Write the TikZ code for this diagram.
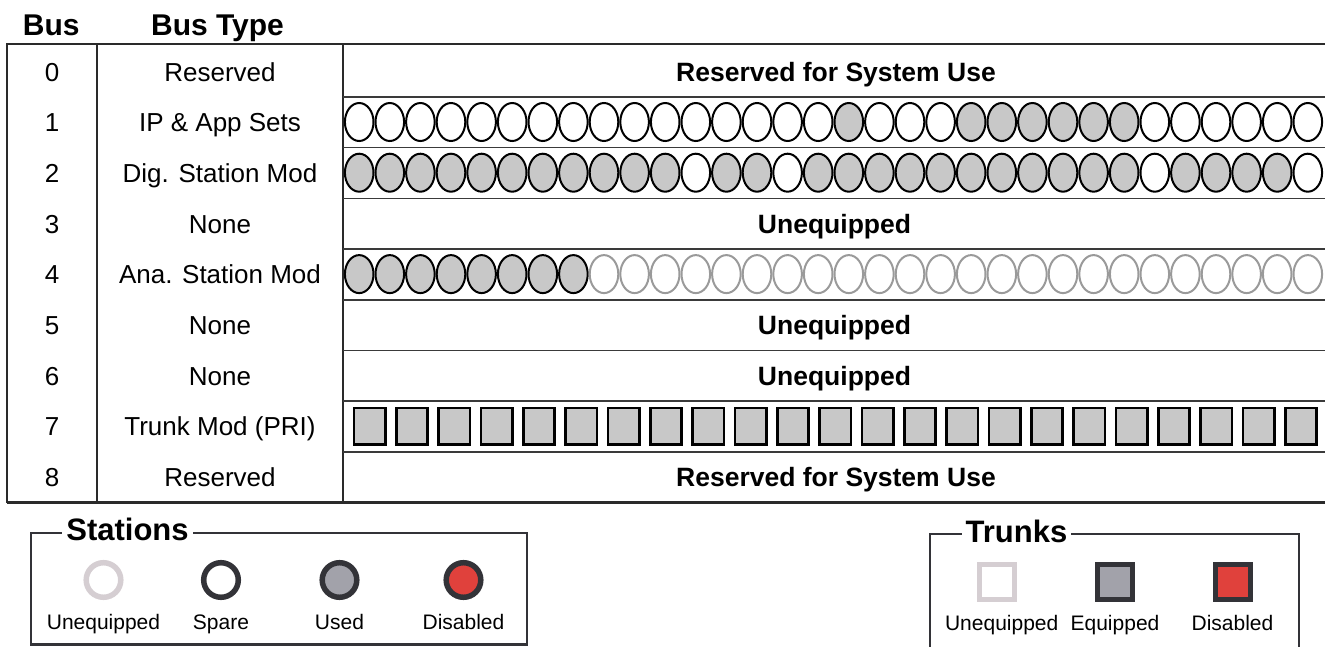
\documentclass[tikz,border=0pt]{standalone}
\usepackage{fontspec}
\setmainfont{Liberation Sans}
\definecolor{cellgrey}{HTML}{C8C8C8}
\definecolor{unegrey}{HTML}{9A9A9A}
\definecolor{legdark}{HTML}{333338}
\definecolor{leglight}{HTML}{D5CED2}
\definecolor{usedgrey}{HTML}{A2A2AA}
\definecolor{disred}{HTML}{E0413C}
\definecolor{rowline}{HTML}{3A3A3A}
\definecolor{frame}{HTML}{2A2A2A}
\begin{document}
\begin{tikzpicture}[x=1pt,y=-1pt,
  hdr/.style={font=\fontsize{30}{34}\selectfont\bfseries, text height=21.5pt, text depth=0pt, inner sep=0pt},
  lbl/.style={font=\fontsize{26}{30}\selectfont, text height=18.6pt, text depth=0pt, inner sep=0pt},
  blbl/.style={font=\fontsize{26.5}{30}\selectfont\bfseries, text height=19pt, text depth=0pt, inner sep=0pt},
  legtitle/.style={font=\fontsize{31}{34}\selectfont\bfseries, text height=22.2pt, text depth=0pt, inner ysep=2pt, inner xsep=4pt, fill=white},
  leglbl/.style={font=\fontsize{21}{24}\selectfont, text height=15pt, text depth=0pt, inner sep=0pt},
  thickline/.style={draw=frame, line width=2.5pt},
  thinline/.style={draw=rowline, line width=1.5pt},
  ovalW/.style={draw=black, line width=2pt, fill=white},
  ovalG/.style={draw=black, line width=2pt, fill=cellgrey},
  ovalU/.style={draw=unegrey, line width=2pt, fill=white},
  trunksq/.style={draw=black, line width=2.7pt, fill=cellgrey},
  legline/.style={draw=legdark, line width=2.6pt},
  legring/.style={line width=5.5pt},
]
\useasboundingbox (0,0) rectangle (1325,646);

% headers
\node[hdr] (hbus) at (51.3,25) {Bus};
\node[hdr] (htype) at (217.5,25) {Bus Type};

% table frame
\draw[thickline] (7,502.6) -- (7,44) -- (1330,44);
\draw[thickline] (7,502.6) -- (1330,502.6);
\draw[thickline] (97,44) -- (97,502.6);
\draw[thickline] (343,44) -- (343,502.6);
\foreach \i in {0,...,7}
  \draw[thinline] (343,{97+50.7*\i}) -- (1330,{97+50.7*\i});

% row labels
\foreach \n/\t/\y in {0/Reserved/72, 1/IP \& App Sets/122.35, 2/Dig. Station Mod/173.05,
    3/None/223.75, 4/Ana. Station Mod/274.45, 5/None/325.15, 6/None/375.85,
    7/Trunk Mod (PRI)/426.55, 8/Reserved/477.25} {
  \node[lbl] (bus\n) at (52,\y) {\n};
  \node[lbl] (type\n) at (220,\y) {\t};
}

% right column texts
\node[blbl] (r0) at (836,72) {Reserved for System Use};
\node[blbl] (r3) at (834.5,223.75) {Unequipped};
\node[blbl] (r5) at (834.5,325.15) {Unequipped};
\node[blbl] (r6) at (834.5,375.85) {Unequipped};
\node[blbl] (r8) at (836,477.25) {Reserved for System Use};

% row 1 ovals
\foreach \f [count=\k from 0] in {W,W,W,W,W,W,W,W,W,W,W,W,W,W,W,W,G,W,W,W,G,G,G,G,G,G,W,W,W,W,W,W}
  \draw[oval\f] ({359.2+30.6*\k},122) ellipse [x radius=14.3pt, y radius=19pt];
% row 2 ovals
\foreach \f [count=\k from 0] in {G,G,G,G,G,G,G,G,G,G,G,W,G,G,W,G,G,G,G,G,G,G,G,G,G,G,W,G,G,G,G,W}
  \draw[oval\f] ({359.2+30.6*\k},172.7) ellipse [x radius=14.3pt, y radius=19pt];
% row 4 ovals
\foreach \f [count=\k from 0] in {G,G,G,G,G,G,G,G,U,U,U,U,U,U,U,U,U,U,U,U,U,U,U,U,U,U,U,U,U,U,U,U}
  \draw[oval\f] ({359.2+30.6*\k},274.1) ellipse [x radius=14.3pt, y radius=19pt];
% row 7 trunk squares
\foreach \k in {0,...,22}
  \draw[trunksq] ({369.7+42.33*\k-15.65},408) rectangle +(31.3,36.6);

% Stations legend
\draw[legline] (31,533) rectangle (527,644.5);
\node[legtitle] (sttitle) at (127.5,529.5) {Stations};
\draw[legring, draw=leglight, fill=white] (103.5,580) circle [radius=17.3pt];
\draw[legring, draw=legdark, fill=white] (221,580) circle [radius=17.3pt];
\draw[legring, draw=legdark, fill=usedgrey] (339.5,580) circle [radius=17.3pt];
\draw[legring, draw=legdark, fill=disred] (463.5,580) circle [radius=17.3pt];
\node[leglbl] (stl1) at (103.5,621.5) {Unequipped};
\node[leglbl] (stl2) at (221,621.5) {Spare};
\node[leglbl] (stl3) at (339.5,621.5) {Used};
\node[leglbl] (stl4) at (463.5,621.5) {Disabled};

% Trunks legend
\draw[legline] (930,650) -- (930,534) -- (1299,534) -- (1299,650);
\node[legtitle] (trtitle) at (1016.5,531) {Trunks};
\draw[legring, line width=5pt, draw=leglight, fill=white] (979.2,564.2) rectangle (1014.2,599.2);
\draw[legring, line width=5pt, draw=legdark, fill=usedgrey] (1097.5,564.2) rectangle (1132.5,599.2);
\draw[legring, line width=5pt, draw=legdark, fill=disred] (1215.5,564.2) rectangle (1250.5,599.2);
\node[leglbl] (trl1) at (1001.7,623) {Unequipped};
\node[leglbl] (trl2) at (1115,623) {Equipped};
\node[leglbl] (trl3) at (1232.5,623) {Disabled};
\end{tikzpicture}
\end{document}
